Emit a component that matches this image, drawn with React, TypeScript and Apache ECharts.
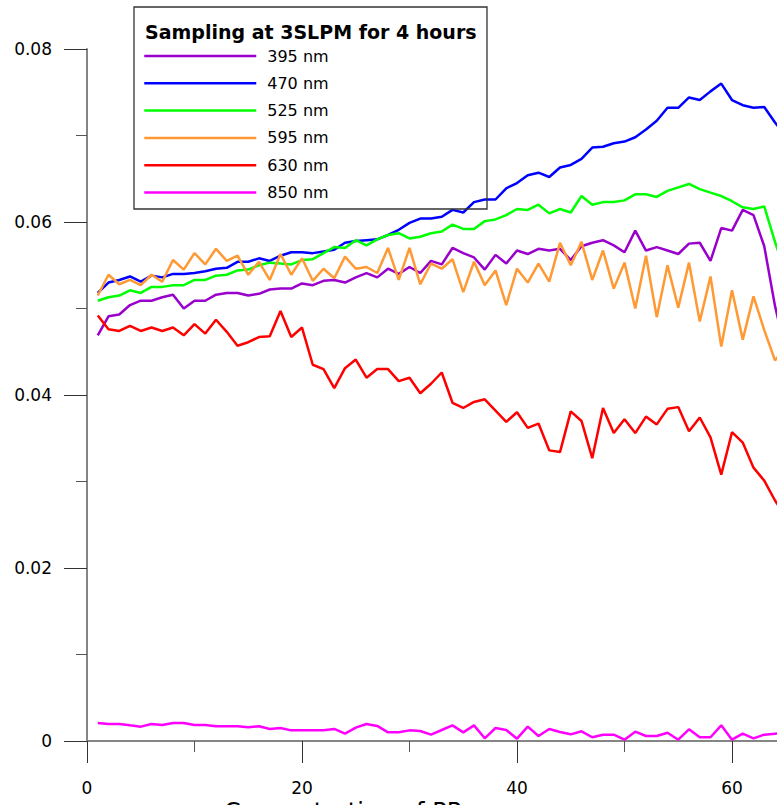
import React, { useEffect, useRef } from "react";
import * as echarts from "echarts";

const xValues = [1,2,3,4,5,6,7,8,9,10,11,12,13,14,15,16,17,18,19,20,21,22,23,24,25,26,27,28,29,30,31,32,33,34,35,36,37,38,39,40,41,42,43,44,45,46,47,48,49,50,51,52,53,54,55,56,57,58,59,60,61,62,63,64,65];

const seriesNames = ["395 nm", "470 nm", "525 nm", "595 nm", "630 nm", "850 nm"];
const seriesColors = ["#9900CC", "#0000FF", "#00FF00", "#FF9933", "#FF0000", "#FF00FF"];

const v395 = [0.0469,0.0491,0.0493,0.0504,0.0509,0.0509,0.0513,0.0516,0.0500,0.0509,0.0509,0.0516,0.0518,0.0518,0.0515,0.0517,0.0522,0.0523,0.0523,0.0529,0.0527,0.0532,0.0533,0.0530,0.0536,0.0541,0.0536,0.0546,0.0540,0.0548,0.0541,0.0555,0.0551,0.0570,0.0564,0.0559,0.0545,0.0562,0.0552,0.0567,0.0563,0.0569,0.0567,0.0569,0.0556,0.0572,0.0576,0.0579,0.0573,0.0565,0.0590,0.0567,0.0571,0.0567,0.0563,0.0575,0.0576,0.0555,0.0593,0.0590,0.0614,0.0608,0.0572,0.0503,0.0450];
const v470 = [0.0518,0.0530,0.0533,0.0537,0.0531,0.0538,0.0536,0.0540,0.0540,0.0541,0.0543,0.0546,0.0547,0.0554,0.0554,0.0558,0.0555,0.0561,0.0565,0.0565,0.0564,0.0566,0.0568,0.0576,0.0578,0.0579,0.0580,0.0585,0.0591,0.0599,0.0604,0.0604,0.0606,0.0614,0.0611,0.0623,0.0626,0.0626,0.0639,0.0645,0.0654,0.0657,0.0652,0.0663,0.0666,0.0673,0.0686,0.0687,0.0691,0.0693,0.0698,0.0707,0.0717,0.0732,0.0732,0.0744,0.0741,0.0751,0.0760,0.0741,0.0735,0.0732,0.0733,0.0715,0.0700];
const v525 = [0.0509,0.0513,0.0515,0.0521,0.0518,0.0525,0.0525,0.0527,0.0527,0.0533,0.0533,0.0538,0.0539,0.0544,0.0545,0.0550,0.0553,0.0552,0.0551,0.0556,0.0557,0.0564,0.0571,0.0570,0.0579,0.0573,0.0580,0.0585,0.0587,0.0581,0.0583,0.0587,0.0589,0.0597,0.0592,0.0592,0.0601,0.0603,0.0608,0.0615,0.0614,0.0620,0.0610,0.0615,0.0611,0.0630,0.0620,0.0623,0.0623,0.0625,0.0632,0.0632,0.0629,0.0636,0.0640,0.0644,0.0638,0.0634,0.0630,0.0624,0.0617,0.0615,0.0618,0.0577,0.0540];
const v595 = [0.0515,0.0539,0.0528,0.0533,0.0527,0.0539,0.0531,0.0556,0.0545,0.0564,0.0551,0.0569,0.0555,0.0561,0.0539,0.0554,0.0533,0.0563,0.0539,0.0558,0.0532,0.0546,0.0535,0.0560,0.0546,0.0548,0.0541,0.0570,0.0533,0.0570,0.0528,0.0552,0.0546,0.0557,0.0519,0.0554,0.0527,0.0544,0.0504,0.0546,0.0530,0.0552,0.0531,0.0576,0.0550,0.0577,0.0533,0.0567,0.0523,0.0553,0.0500,0.0561,0.0490,0.0550,0.0501,0.0553,0.0485,0.0537,0.0456,0.0521,0.0464,0.0514,0.0475,0.0440,0.0455];
const v630 = [0.0492,0.0476,0.0474,0.0480,0.0474,0.0478,0.0474,0.0478,0.0469,0.0482,0.0471,0.0487,0.0473,0.0457,0.0461,0.0467,0.0468,0.0497,0.0467,0.0478,0.0435,0.0430,0.0408,0.0431,0.0441,0.0420,0.0430,0.0430,0.0416,0.0420,0.0402,0.0413,0.0426,0.0391,0.0385,0.0392,0.0395,0.0382,0.0369,0.0380,0.0362,0.0367,0.0336,0.0334,0.0381,0.0370,0.0327,0.0385,0.0356,0.0372,0.0356,0.0375,0.0366,0.0384,0.0386,0.0358,0.0374,0.0351,0.0308,0.0357,0.0345,0.0316,0.0301,0.0278,0.0260];
const v850 = [0.00208,0.00197,0.00197,0.00181,0.00166,0.00197,0.00185,0.00208,0.00208,0.00185,0.00185,0.0017,0.0017,0.0017,0.00158,0.0017,0.00139,0.0015,0.00123,0.00123,0.00123,0.00123,0.00139,0.00085,0.00154,0.00197,0.00174,0.001,0.001,0.00123,0.00116,0.00073,0.00127,0.00181,0.001,0.00181,0.00031,0.0015,0.00127,0.00027,0.00166,0.00058,0.00139,0.00104,0.00077,0.00112,0.00043,0.00073,0.00073,0.00015,0.00108,0.00058,0.00058,0.00096,0.00015,0.00135,0.00043,0.00043,0.00181,0.00015,0.00085,0.00031,0.00073,0.00085,0.0009];

const seriesValues = [v395, v470, v525, v595, v630, v850];

const legendTitle = "Sampling at 3SLPM for 4 hours";
const xAxisTitle = "Concentration of PP";

const FONT = "DejaVu Sans";

export default function App() {
  const ref = useRef<HTMLDivElement>(null);
  useEffect(() => {
    document.body.style.margin = "0";
    if (!ref.current) return;
    const chart = echarts.init(ref.current, null, { renderer: "svg" });
    const axisLineStyle = { color: "#858585", width: 2 };
    chart.setOption({
      animation: false,
      backgroundColor: "#ffffff",
      grid: { left: 87, top: 49, width: 860, height: 692, containLabel: false, outerBoundsMode: "none" },
      xAxis: {
        type: "value",
        min: 0,
        max: 80,
        interval: 20,
        axisLine: { show: true, onZero: false, lineStyle: axisLineStyle },
        axisTick: { show: true, length: 22, lineStyle: { color: "#333", width: 1 } },
        minorTick: { show: true, splitNumber: 2, length: 11, lineStyle: { color: "#555", width: 1 } },
        splitLine: { show: false },
        axisLabel: { margin: 38, fontSize: 17, fontFamily: FONT, color: "#000", showMaxLabel: false },
      },
      yAxis: {
        type: "value",
        min: 0,
        max: 0.08,
        interval: 0.02,
        axisLine: { show: true, onZero: false, lineStyle: axisLineStyle },
        axisTick: { show: true, length: 23, lineStyle: { color: "#333", width: 1 } },
        minorTick: { show: true, splitNumber: 2, length: 11, lineStyle: { color: "#555", width: 1 } },
        splitLine: { show: false },
        axisLabel: {
          margin: 35,
          fontSize: 17,
          fontFamily: FONT,
          color: "#000",
          formatter: (v: number) => (v === 0 ? "0" : v.toFixed(2)),
        },
      },
      legend: {
        orient: "vertical",
        left: 143,
        top: 48,
        padding: 0,
        itemWidth: 112,
        itemHeight: 14,
        itemGap: 11.3,
        data: seriesNames,
        itemStyle: { opacity: 0 },
        lineStyle: { width: 2.5 },
        textStyle: { fontSize: 16, fontFamily: FONT, color: "#000", lineHeight: 14, padding: [2, 0, 0, 6] },
      },
      graphic: [
        {
          type: "rect",
          shape: { x: 134, y: 7, width: 353, height: 202 },
          style: { fill: "none", stroke: "#333", lineWidth: 1.3 },
          z: 10,
        },
        {
          type: "text",
          x: 145,
          y: 32,
          style: {
            text: legendTitle,
            font: `bold 19px "${FONT}"`,
            fill: "#000",
            textVerticalAlign: "middle",
            verticalAlign: "middle",
          },
          z: 10,
        },
        {
          type: "text",
          x: 224,
          y: 812,
          style: {
            text: xAxisTitle,
            font: `24px "${FONT}"`,
            fill: "#000",
            verticalAlign: "middle",
          },
        },
      ],
      series: seriesNames.map((name, i) => ({
        name,
        type: "line",
        symbol: "none",
        showSymbol: false,
        color: seriesColors[i],
        lineStyle: { color: seriesColors[i], width: 2.5 },
        data: xValues.map((x, j) => [x, seriesValues[i][j]]),
        z: 2,
      })),
    });
    return () => chart.dispose();
  }, []);
  return <div ref={ref} style={{ width: 777, height: 805, position: "fixed", left: 0, top: 0 }} />;
}
